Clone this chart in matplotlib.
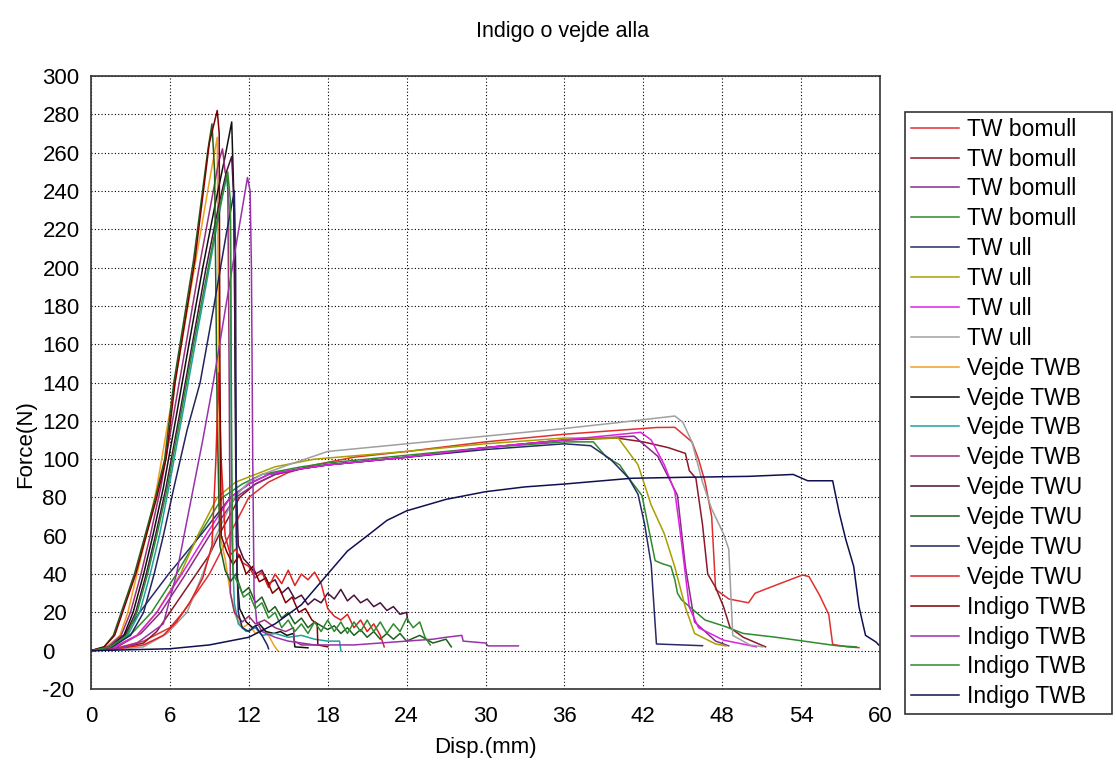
import matplotlib
matplotlib.use("Agg")
import matplotlib.pyplot as plt

# ---- data (Disp. mm / Force N) ----
labels = ["TW bomull"] * 4 + ["TW ull"] * 4 + ["Vejde TWB"] * 4 + ["Vejde TWU"] * 4 + ["Indigo TWB"] * 4

tw_bomull_1_x = [0, 2, 4, 6, 7, 8, 9, 10.5, 12, 13.5, 15, 17, 20, 24, 30, 36, 40, 43, 44.4, 45.7, 46.2, 46.7, 47.2, 47.5, 48.5, 50.0, 50.5, 52, 54.1, 54.6, 55.4, 56.1, 56.4, 57.5, 58.4]
tw_bomull_1_y = [0, 1.5, 5, 12, 20, 30, 40, 60, 80, 88, 93, 97, 101, 104, 109, 113, 115, 116.5, 116.6, 109, 100, 88, 70, 32, 27, 25, 30, 34, 39.5, 38.7, 29, 19, 3.3, 2, 1.6]

tw_bomull_2_x = [0, 2, 4, 5, 6, 7, 8, 9, 9.7, 10.5, 11.3, 12.5, 14, 16, 18, 24, 30, 36, 40, 42, 43.9, 45.2, 45.5, 46, 46.5, 46.9, 47.5, 48.1, 48.6, 49.6, 51.3]
tw_bomull_2_y = [0, 1, 4, 10, 20, 30, 40, 50, 60, 70, 80, 87, 92, 95, 97, 101, 106, 110, 111, 109, 106, 103, 94, 90, 66, 40, 33, 23, 12, 7, 2]

tw_bomull_3_x = [0, 2, 3.8, 5.3, 7.2, 9.0, 11.0, 12.5, 14, 16, 18, 24, 30, 36, 41.3, 43.1, 44.1, 44.6, 45.2, 45.9, 47.5, 48.5]
tw_bomull_3_y = [0, 2, 9, 20, 40, 60, 80, 87, 92, 95, 97, 101, 106, 110, 112, 101.5, 88, 81, 44, 15, 5, 2.5]

tw_bomull_4_x = [0, 1.5, 3.1, 4.6, 6.5, 8.2, 10.0, 11.5, 13, 16, 18, 24, 30, 36, 38.2, 39.2, 40.2, 40.9, 41.9, 42.4, 42.9, 43.4, 44.1, 44.4, 44.6, 44.9, 46.7, 48.2, 49.6, 52.1, 56.7, 58.2]
tw_bomull_4_y = [0, 2, 9, 20, 40, 60, 80, 87, 92, 96, 98, 102, 106, 109, 109, 101, 97, 90, 81, 64, 47, 45.5, 44, 37, 30, 26.6, 16, 12.7, 9, 7, 2.6, 2]

tw_ull_1_x = [0, 1.2, 2.5, 3.7, 5.9, 8.3, 10.6, 12, 13.5, 16, 18, 24, 30, 36, 38, 39.5, 40.9, 41.6, 42.1, 42.6, 43.0, 46.5]
tw_ull_1_y = [0, 2, 8, 20, 40, 60, 80, 87, 92, 95, 97, 101, 105, 108, 107, 100, 90, 81.6, 66, 45, 3.5, 2.6]

tw_ull_2_x = [0, 1.8, 3.5, 5.0, 6.8, 8.1, 9.6, 11, 12.5, 14, 17, 24, 30, 36, 40.1, 41.6, 42.6, 43.6, 44.4, 45.2, 45.9, 47.5, 48.3]
tw_ull_2_y = [0, 2, 8, 20, 40, 60, 80, 88, 92, 96, 100, 104, 108, 111, 111, 97, 76, 61, 43.6, 22.6, 9, 3.5, 2.5]

tw_ull_3_x = [0, 1.8, 3.5, 5.0, 6.9, 8.7, 10.6, 12, 13.5, 16, 18, 24, 30, 36, 41.8, 42.6, 43.6, 44.4, 44.9, 45.5, 46.2, 48.1, 50.6]
tw_ull_3_y = [0, 2, 8, 20, 40, 60, 80, 87, 92, 95, 97, 101, 106, 110, 114, 110, 97, 83, 57, 22.6, 12, 5.5, 2]

tw_ull_4_x = [0, 2, 4, 5.8, 7.3, 8.5, 9.5, 10.9, 12, 13, 15, 18, 24, 30, 36, 40, 44.4, 45, 45.7, 46.5, 47.2, 48.1, 48.5, 48.8, 50.1, 51.1]
tw_ull_4_y = [0, 0.5, 2, 9, 20, 40, 60, 80, 88, 92, 97, 104, 108, 112, 116, 119, 122.5, 119.3, 109, 88, 74, 61, 53, 8, 3, 2]

vejde_twb_1_x = [0, 1.2, 2.2, 2.8, 3.5, 4.2, 5.0, 6, 7, 8, 9, 9.6, 9.8, 10.2, 10.6, 11, 11.5, 12, 12.5, 13, 13.5, 13.9, 14.2]
vejde_twb_1_y = [0, 2, 8, 20, 40, 60, 85, 125, 165, 205, 245, 268, 60, 48, 30, 18, 12, 14, 9, 11, 8, 3, 0]

vejde_twb_2_x = [0, 1.5, 2.5, 3.2, 4, 4.7, 5.5, 6.5, 7.5, 8.5, 9.5, 10.2, 10.7, 10.85, 11.0, 11.1, 11.3, 11.8, 12.3, 12.8, 13.3, 13.9, 14.4, 14.9, 15.4, 15.5, 16.5]
vejde_twb_2_y = [0, 2, 8, 20, 40, 60, 85, 123, 162, 200, 235, 258, 276, 240, 120, 40, 22, 15, 12, 14, 10, 9, 10, 8, 9, 2, 1.5]

vejde_twb_3_x = [0, 1.5, 2.8, 3.7, 4.5, 5.2, 6, 7, 8, 9, 9.8, 10.3, 10.6, 10.7, 10.9, 11.2, 11.8, 12.5, 13, 14, 15, 16, 17, 18, 18.9, 19]
vejde_twb_3_y = [0, 1.5, 8, 20, 40, 60, 88, 125, 163, 200, 230, 248, 225, 60, 25, 14, 10, 12, 8, 9, 7, 8, 6, 5, 5, 0]

vejde_twb_4_x = [0, 1.3, 2.3, 3.0, 3.8, 4.5, 5.3, 6.3, 7.3, 8.3, 9.3, 9.7, 10.0, 10.2, 10.4, 10.5, 10.6, 10.9, 11.5, 12, 12.5, 13.2, 14, 14.8, 15.4, 15.45, 16, 17.2]
vejde_twb_4_y = [0, 2, 8, 20, 40, 60, 85, 124, 163, 203, 240, 255, 262, 250, 245, 150, 30, 20, 15, 18, 14, 16, 12, 10, 12, 5, 3, 3]

vejde_twu_1_x = [0, 1.5, 2.6, 3.4, 4.2, 4.9, 5.7, 6.7, 7.7, 8.7, 9.7, 10.3, 10.7, 10.9, 11.0, 11.2, 11.6, 12, 12.5, 13, 13.5, 14, 14.5, 15, 15.5, 16, 16.5, 17, 17.5, 18, 18.5, 19, 19.5, 20, 20.5, 21, 21.5, 22, 22.5, 23, 23.5, 24, 24.1]
vejde_twu_1_y = [0, 2, 8, 20, 40, 60, 85, 122, 160, 198, 232, 250, 258, 230, 100, 55, 48, 45, 40, 42, 35, 37, 30, 33, 27, 29, 24, 27, 25, 30, 27, 32, 26, 29, 25, 27, 23, 25, 21, 23, 19, 20, 15]

vejde_twu_2_x = [0, 1, 1.7, 2.3, 3.3, 4.1, 4.9, 5.6, 6.3, 7.8, 8.9, 9.2, 9.4, 9.6, 9.8, 10.2, 10.6, 11, 11.5, 12, 12.5, 13, 13.5, 14, 14.5, 15, 15.5, 16, 16.5, 17, 18, 18.5, 19, 19.5, 20, 20.5, 21, 21.5, 22, 22.5, 23, 23.5, 24, 25, 26, 27, 27.4]
vejde_twu_2_y = [0, 2, 8, 20, 40, 60, 80, 100, 140, 204, 262, 275, 250, 120, 55, 42, 36, 40, 30, 33, 25, 28, 20, 23, 17, 20, 14, 17, 12, 15, 11, 13, 9, 12, 8, 11, 7, 10, 6, 9, 6, 9, 5, 8, 4, 6, 2]

vejde_twu_3_x = [0, 1.5, 3, 4.0, 4.8, 5.5, 6.3, 7.3, 8.3, 9.3, 10.3, 10.9, 11.0, 11.05, 11.2, 11.5, 12, 12.5, 13, 13.4, 13.5]
vejde_twu_3_y = [0, 1.5, 8, 20, 40, 60, 85, 115, 140, 178, 218, 240, 200, 60, 20, 12, 10, 13, 8, 3, 1]

vejde_twu_4_x = [0, 2, 4, 5.5, 6.5, 7.5, 8.5, 9.2, 9.5, 9.7, 9.9, 10.2, 10.6, 11, 11.5, 12, 12.5, 13, 13.5, 14, 14.5, 15, 15.5, 16, 16.5, 17, 17.5, 18, 18.5, 19, 19.5, 20, 20.5, 21, 21.5, 22, 22.3]
vejde_twu_4_y = [0, 1, 3, 8, 15, 25, 38, 55, 100, 145, 100, 60, 50, 53, 46, 44, 38, 41, 33, 40, 35, 42, 34, 40, 37, 41, 35, 22, 18, 16, 19, 12, 16, 10, 14, 8, 2]

indigo_twb_1_x = [0, 1, 1.8, 2.4, 3.4, 4.2, 5.0, 5.7, 6.4, 7.9, 9.0, 9.6, 9.75, 9.8, 9.9, 10.3, 10.8, 11.3, 11.8, 12.3, 12.8, 13.3, 13.8, 14.3, 14.8, 15.3, 15.8, 16.3, 16.8, 17.2, 17.25, 18]
indigo_twb_1_y = [0, 2, 8, 20, 40, 60, 80, 100, 140, 204, 265, 282, 270, 150, 60, 52, 45, 50, 40, 44, 36, 38, 30, 33, 25, 28, 20, 22, 16, 14, 3, 2]

indigo_twb_2_x = [0, 2, 3.5, 4.5, 5.5, 6.5, 7.5, 8.5, 9.3, 10.5, 11.9, 12.1, 12.2, 12.3, 12.4, 12.6, 13, 14, 15, 16, 17, 20, 22, 24, 26, 27, 28.2, 28.3, 30, 30.2, 32.5]
indigo_twb_2_y = [0, 1, 4, 9, 14, 40, 75, 110, 140, 190, 247, 240, 200, 100, 30, 15, 10, 7, 5, 4, 3, 3, 4, 5, 6, 7, 8, 5, 4, 2.5, 2.5]

indigo_twb_3_x = [0, 1.5, 2.7, 3.5, 4.3, 5.0, 5.8, 6.8, 7.8, 8.8, 9.8, 10.4, 10.6, 10.7, 10.8, 11.2, 11.6, 12, 12.5, 13, 13.5, 14, 14.5, 15, 15.5, 16, 16.5, 17, 17.5, 18, 18.5, 19, 19.5, 20, 20.5, 21, 21.5, 22, 22.5, 23, 23.5, 24, 24.5, 25, 25.4, 25.8]
indigo_twb_3_y = [0, 2, 8, 20, 40, 60, 85, 122, 160, 196, 232, 250, 235, 100, 40, 35, 28, 30, 22, 25, 17, 20, 12, 16, 10, 14, 9, 15, 10, 16, 10, 15, 9, 15, 10, 16, 10, 15, 9, 14, 10, 17, 12, 15, 7, 3]

indigo_twb_4_x = [0, 6, 9, 12, 14, 16, 18, 19.5, 21.2, 22.5, 24, 27, 30, 33, 36, 41.1, 45, 50, 53.4, 54.5, 56.4, 56.9, 57.4, 58.0, 58.4, 58.9, 59.7, 59.9]
indigo_twb_4_y = [0, 1, 3, 7, 14, 24, 40, 52, 61, 68, 73, 79, 83, 85.5, 87, 90, 90.5, 91, 92, 88.7, 88.7, 72, 58, 44, 23, 8, 4.5, 3]

xs = [tw_bomull_1_x, tw_bomull_2_x, tw_bomull_3_x, tw_bomull_4_x,
      tw_ull_1_x, tw_ull_2_x, tw_ull_3_x, tw_ull_4_x,
      vejde_twb_1_x, vejde_twb_2_x, vejde_twb_3_x, vejde_twb_4_x,
      vejde_twu_1_x, vejde_twu_2_x, vejde_twu_3_x, vejde_twu_4_x,
      indigo_twb_1_x, indigo_twb_2_x, indigo_twb_3_x, indigo_twb_4_x]
ys = [tw_bomull_1_y, tw_bomull_2_y, tw_bomull_3_y, tw_bomull_4_y,
      tw_ull_1_y, tw_ull_2_y, tw_ull_3_y, tw_ull_4_y,
      vejde_twb_1_y, vejde_twb_2_y, vejde_twb_3_y, vejde_twb_4_y,
      vejde_twu_1_y, vejde_twu_2_y, vejde_twu_3_y, vejde_twu_4_y,
      indigo_twb_1_y, indigo_twb_2_y, indigo_twb_3_y, indigo_twb_4_y]

colors = ["#e03030", "#8b1a2a", "#8a2a8a", "#2e8b2e",
          "#2a2a6a", "#a8a000", "#e020e0", "#a0a0a0",
          "#f0a020", "#101010", "#20a0a0", "#9a2f7a",
          "#4a1040", "#1f5f1f", "#23235f", "#e02020",
          "#800000", "#9933aa", "#2e8b2e", "#101050"]

x_ticks = list(range(0, 61, 6))
y_ticks = list(range(-20, 301, 20))

plt.rcParams['font.family'] = ['Liberation Sans', 'DejaVu Sans']
plt.rcParams['axes.unicode_minus'] = False

fig = plt.figure(figsize=(11.16, 7.67), dpi=100)
ax = fig.add_axes([91 / 1116, 1 - 689 / 767, 789 / 1116, 613 / 767])

for x, y, lab, c in zip(xs, ys, labels, colors):
    ax.plot(x, y, color=c, lw=1.1, label=lab)

ax.set_xlim(0, 60)
ax.set_ylim(-20, 300)
ax.set_xticks(x_ticks)
ax.set_yticks(y_ticks)
ax.grid(True, color='black', linestyle=(0, (1, 2)), lw=0.8)
ax.tick_params(length=0, labelsize=16)
ax.tick_params(axis='x', pad=12)
ax.tick_params(axis='y', pad=35)
for t in ax.get_yticklabels():
    t.set_horizontalalignment('left')
for s in ax.spines.values():
    s.set_color('#333333')
    s.set_linewidth(1.2)

ax.set_xlabel("Disp.(mm)", fontsize=16)
ax.xaxis.set_label_coords(0.5, -0.078)
ax.set_ylabel("Force(N)", fontsize=16)
ax.yaxis.set_label_coords(-0.07, 0.40)

fig.text(563 / 1116, 1 - 32 / 767, "Indigo o vejde alla", fontsize=15.5, ha='center', va='center')

leg = fig.legend(loc='upper left', bbox_to_anchor=(905 / 1116, 1 - 112 / 767, 207 / 1116, 0.0),
                 mode='expand', fontsize=16.5, frameon=True, fancybox=False, framealpha=1,
                 edgecolor='#333333', handlelength=2.1, handletextpad=0.36,
                 labelspacing=0.30, borderpad=0.25, borderaxespad=0)
leg.get_frame().set_linewidth(1.2)

fig.savefig("out.png", dpi=100)
